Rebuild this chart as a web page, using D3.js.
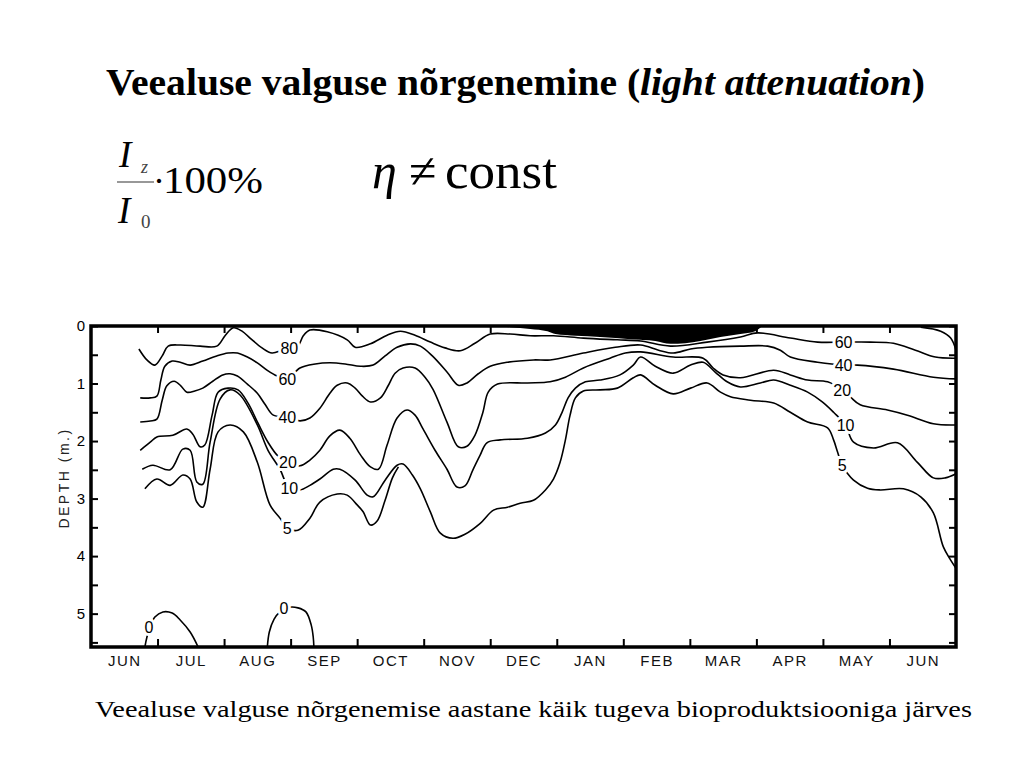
<!DOCTYPE html>
<html><head><meta charset="utf-8">
<script src="https://cdn.jsdelivr.net/npm/d3@7"></script>
<style>body{margin:0;background:#fff}svg{display:block}</style>
</head><body>
<svg id="c" width="1024" height="768"></svg>
<script>
// ---- data (month index from start of June, depth in m) ----
const months = ["JUN","JUL","AUG","SEP","OCT","NOV","DEC","JAN","FEB","MAR","APR","MAY","JUN"];
const depthTicks = [0,1,2,3,4,5];

const iso80 = [[0.72,0.40],[0.84,0.59],[0.96,0.68],[1.07,0.52],[1.16,0.35],[1.34,0.33],[1.64,0.35],[1.89,0.35],[2.02,0.16],[2.14,0.03],[2.27,0.09],[2.39,0.21],[2.57,0.38],[2.72,0.47],[2.87,0.42],[2.98,0.38],[3.11,0.35],[3.19,0.17],[3.29,0.07],[3.55,0.10],[3.85,0.24],[3.97,0.37],[4.20,0.31],[4.45,0.16],[4.65,0.09],[4.87,0.16],[5.10,0.28],[5.32,0.38],[5.55,0.43],[5.77,0.30],[6.00,0.14],[6.30,0.14],[6.60,0.17],[6.95,0.17],[7.40,0.21],[7.91,0.24],[8.26,0.26],[8.71,0.35],[9.26,0.28],[9.76,0.19],[10.02,0.12],[10.51,0.21],[10.92,0.28],[11.31,0.28],[11.71,0.28],[12.06,0.30],[12.39,0.42],[12.69,0.54],[13.0,0.56]];
const iso80b = [[12.47,0.02],[12.77,0.09],[12.92,0.21],[13.0,0.42]];
const iso60 = [[0.74,1.25],[0.89,1.25],[0.99,1.22],[1.05,0.94],[1.11,0.70],[1.22,0.61],[1.34,0.63],[1.49,0.68],[1.68,0.61],[1.89,0.52],[2.06,0.47],[2.20,0.47],[2.35,0.54],[2.50,0.64],[2.65,0.77],[2.80,0.87],[2.95,0.92],[3.14,0.73],[3.37,0.66],[3.59,0.64],[3.82,0.66],[4.05,0.70],[4.24,0.68],[4.42,0.52],[4.60,0.37],[4.80,0.31],[4.95,0.35],[5.13,0.52],[5.35,0.80],[5.52,1.03],[5.65,0.99],[5.82,0.83],[6.00,0.70],[6.26,0.63],[6.65,0.59],[6.90,0.59],[7.40,0.47],[7.88,0.37],[8.26,0.33],[8.53,0.42],[8.75,0.47],[9.01,0.40],[9.26,0.37],[9.76,0.35],[10.17,0.35],[10.36,0.42],[10.51,0.54],[10.92,0.63],[11.31,0.68],[11.52,0.68],[12.06,0.75],[12.66,0.89],[13.0,0.92]];
const iso40 = [[0.74,1.67],[0.89,1.65],[0.99,1.62],[1.07,1.29],[1.14,1.04],[1.25,0.96],[1.35,1.04],[1.44,1.15],[1.56,1.13],[1.68,1.08],[1.83,0.96],[1.98,0.85],[2.09,0.83],[2.20,0.87],[2.35,1.01],[2.50,1.17],[2.62,1.37],[2.74,1.55],[2.95,1.58],[3.14,1.65],[3.29,1.60],[3.44,1.43],[3.59,1.17],[3.70,1.03],[3.85,0.99],[3.97,1.08],[4.08,1.22],[4.20,1.32],[4.35,1.25],[4.47,1.03],[4.57,0.82],[4.69,0.73],[4.87,0.73],[5.02,0.89],[5.14,1.10],[5.35,1.67],[5.52,2.10],[5.65,2.09],[5.77,1.90],[5.89,1.50],[5.97,1.15],[6.11,1.01],[6.56,0.99],[6.90,0.97],[7.13,0.89],[7.40,0.73],[7.80,0.56],[8.03,0.47],[8.26,0.45],[8.75,0.54],[9.20,0.56],[9.35,0.73],[9.50,0.85],[9.76,0.90],[10.26,0.77],[10.51,0.85],[10.77,0.94],[11.07,0.97],[11.29,1.11],[11.41,1.23],[11.56,1.37],[11.97,1.46],[12.27,1.55],[12.66,1.70],[13.0,1.72]];
const iso20 = [[0.74,2.16],[0.89,2.02],[0.99,1.93],[1.23,1.90],[1.44,1.79],[1.53,1.88],[1.64,2.10],[1.71,2.07],[1.82,1.55],[1.91,1.15],[2.06,1.08],[2.21,1.11],[2.36,1.34],[2.51,1.69],[2.66,2.02],[2.81,2.26],[2.96,2.37],[3.14,2.43],[3.29,2.33],[3.44,2.16],[3.59,1.91],[3.74,1.81],[3.89,1.95],[4.05,2.24],[4.20,2.45],[4.32,2.49],[4.45,2.07],[4.60,1.60],[4.75,1.46],[4.87,1.55],[4.99,1.79],[5.17,2.16],[5.35,2.49],[5.50,2.80],[5.62,2.78],[5.74,2.50],[5.85,2.24],[5.95,2.03],[6.15,1.98],[6.56,1.95],[6.83,1.86],[6.98,1.72],[7.08,1.50],[7.17,1.25],[7.28,1.08],[7.43,0.97],[7.65,0.94],[7.95,0.85],[8.15,0.68],[8.26,0.54],[8.48,0.70],[8.75,0.82],[9.01,0.68],[9.20,0.63],[9.38,0.80],[9.56,0.97],[9.76,1.06],[10.06,0.99],[10.26,0.94],[10.51,1.03],[10.77,1.15],[10.99,1.32],[11.16,1.50],[11.34,1.72],[11.46,2.02],[11.76,2.12],[12.12,2.03],[12.42,2.37],[12.66,2.64],[12.84,2.64],[13.0,2.57]];
const iso10 = [[0.77,2.49],[0.93,2.42],[1.19,2.50],[1.38,2.14],[1.49,2.16],[1.59,2.71],[1.68,2.75],[1.79,2.02],[1.94,1.27],[2.09,1.11],[2.24,1.20],[2.50,1.72],[2.66,2.16],[2.84,2.49],[2.98,2.82],[3.14,2.85],[3.29,2.77],[3.44,2.66],[3.64,2.49],[3.74,2.49],[3.97,2.68],[4.15,2.94],[4.24,2.97],[4.42,2.68],[4.60,2.42],[4.69,2.40],[4.83,2.59],[4.95,2.83],[5.10,3.23],[5.25,3.60],[5.44,3.69],[5.62,3.62],[5.85,3.43],[6.05,3.20],[6.26,3.15],[6.45,3.08],[6.65,3.03],[6.83,2.85],[6.95,2.66],[7.05,2.37],[7.13,1.98],[7.20,1.55],[7.28,1.25],[7.40,1.13],[7.65,1.11],[7.91,1.08],[8.15,0.90],[8.26,0.85],[8.48,1.03],[8.75,1.18],[9.01,1.08],[9.26,0.99],[9.46,1.15],[9.61,1.23],[9.91,1.29],[10.26,1.34],[10.51,1.50],[10.77,1.67],[11.07,1.77],[11.16,1.98],[11.22,2.19],[11.29,2.42],[11.46,2.68],[11.67,2.82],[11.86,2.85],[12.21,2.83],[12.47,2.97],[12.66,3.25],[12.81,3.84],[12.92,4.07],[13.0,4.21]];
const iso5 = [[0.81,2.83],[0.99,2.66],[1.19,2.77],[1.38,2.59],[1.49,2.66],[1.59,3.06],[1.68,3.15],[1.79,2.49],[1.91,1.84],[2.09,1.72],[2.29,1.84],[2.50,2.37],[2.69,3.11],[2.84,3.34],[2.95,3.51],[3.11,3.55],[3.29,3.34],[3.44,3.06],[3.70,2.92],[3.85,2.94],[4.00,3.11],[4.09,3.23],[4.20,3.46],[4.30,3.39],[4.42,3.03],[4.53,2.64],[4.62,2.45]];
const iso0a = [[0.81,5.58],[0.84,5.41],[0.89,5.23],[0.96,5.06],[1.08,4.97],[1.22,4.99],[1.34,5.11],[1.49,5.32],[1.61,5.58]];
const iso0b = [[2.65,5.58],[2.68,5.32],[2.75,5.10],[2.84,4.97],[2.98,4.89],[3.11,4.90],[3.23,4.97],[3.31,5.20],[3.34,5.41],[3.35,5.58]];
const ice = [[6.00,0.0],[6.30,0.02],[6.60,0.05],[6.86,0.09],[6.98,0.14],[7.28,0.17],[7.65,0.19],[8.11,0.23],[8.48,0.26],[8.71,0.31],[8.93,0.30],[9.16,0.26],[9.46,0.19],[9.76,0.14],[9.98,0.09],[10.09,0.0]];
const isoLabels = [[2.98,0.38,"80"],[2.95,0.92,"60"],[2.95,1.58,"40"],[2.96,2.37,"20"],[2.98,2.82,"10"],[2.95,3.51,"5"],
  [11.31,0.28,"60"],[11.31,0.68,"40"],[11.29,1.11,"20"],[11.34,1.72,"10"],[11.29,2.42,"5"],
  [0.87,5.23,"0"],[2.90,4.91,"0"]];

// ---- drawing ----
const svg = d3.select("#c");
const x = d3.scaleLinear().domain([0,13]).range([91,956]);
const y = d3.scaleLinear().domain([0,5.58]).range([326,647]);
const sans = "'Liberation Sans', Arial, sans-serif";
const serif = "'Liberation Serif', 'Times New Roman', serif";

// title
const t = svg.append("text").attr("x",106).attr("y",95).attr("font-family",serif)
  .attr("font-weight","bold").attr("font-size",38).attr("textLength",819).attr("lengthAdjust","spacingAndGlyphs");
t.append("tspan").text("Veealuse valguse nõrgenemine (");
t.append("tspan").attr("font-style","italic").text("light attenuation");
t.append("tspan").text(")");

// formula
svg.append("text").attr("x",119).attr("y",167).attr("font-family",serif).attr("font-style","italic").attr("font-size",37).text("I");
svg.append("text").attr("x",141).attr("y",173).attr("font-family",serif).attr("font-style","italic").attr("font-size",18).attr("fill","#444").text("z");
svg.append("line").attr("x1",117).attr("x2",154).attr("y1",182).attr("y2",182).attr("stroke","#333").attr("stroke-width",1.2);
svg.append("text").attr("x",118).attr("y",223).attr("font-family",serif).attr("font-style","italic").attr("font-size",37).text("I");
svg.append("text").attr("x",141).attr("y",228).attr("font-family",serif).attr("font-size",19).attr("fill","#444").text("0");
svg.append("text").attr("x",153).attr("y",193).attr("font-family",serif).attr("font-size",36).text("·");
svg.append("text").attr("x",163).attr("y",193).attr("font-family",serif).attr("font-size",37).attr("textLength",100).attr("lengthAdjust","spacingAndGlyphs").text("100%");

svg.append("text").attr("x",372).attr("y",188).attr("font-family",serif).attr("font-style","italic").attr("font-size",50).text("η");
svg.append("text").attr("x",409).attr("y",188).attr("font-family",serif).attr("font-size",50).text("≠");
svg.append("text").attr("x",445).attr("y",188).attr("font-family",serif).attr("font-size",50).attr("textLength",112).attr("lengthAdjust","spacingAndGlyphs").text("const");

// caption
svg.append("text").attr("x",95).attr("y",717).attr("font-family",serif).attr("font-size",23)
  .attr("textLength",877).attr("lengthAdjust","spacingAndGlyphs")
  .text("Veealuse valguse nõrgenemise aastane käik tugeva bioproduktsiooniga järves");

// plot
svg.append("clipPath").attr("id","clip").append("rect").attr("x",91).attr("y",326).attr("width",865).attr("height",321);
const g = svg.append("g").attr("clip-path","url(#clip)");

g.append("path").datum(ice).attr("fill","#000")
  .attr("d", d3.area().x(d=>x(d[0])).y0(y(0)).y1(d=>y(d[1])).curve(d3.curveMonotoneX));

const line = d3.line().x(d=>x(d[0])).y(d=>y(d[1])).curve(d3.curveCatmullRom.alpha(0.5));
[iso80, iso80b, iso60, iso40, iso20, iso10, iso5, iso0a, iso0b].forEach(p=>{
  g.append("path").datum(p).attr("d",line).attr("fill","none").attr("stroke","#000").attr("stroke-width",1.6);
});

g.selectAll("text.lab").data(isoLabels).join("text").attr("class","lab")
  .attr("x",d=>x(d[0])).attr("y",d=>y(d[1])).attr("dy","0.36em").attr("text-anchor","middle")
  .attr("font-family",sans).attr("font-size",16).attr("fill","#000")
  .attr("stroke","#fff").attr("stroke-width",6).attr("paint-order","stroke").text(d=>d[2]);

// axes
const halfTicks = d3.range(0,5.51,0.5);
const ax = (sel)=>{ sel.select(".domain").remove(); sel.selectAll(".tick line").attr("stroke","#000").attr("stroke-width",2); };
svg.append("g").attr("transform",`translate(${x(0)},0)`)
  .call(d3.axisLeft(y).tickValues(halfTicks).tickSize(-7).tickPadding(6)
    .tickFormat(d=> depthTicks.includes(d) ? d : ""))
  .call(ax).call(s=>s.selectAll("text").attr("font-family",sans).attr("font-size",15).attr("fill","#000"));
svg.append("g").attr("transform",`translate(${x(13)},0)`)
  .call(d3.axisRight(y).tickValues(halfTicks).tickSize(-7).tickFormat("")).call(ax);
svg.append("g").attr("transform",`translate(0,${y(5.58)})`)
  .call(d3.axisBottom(x).tickValues(d3.range(1,13)).tickSize(-8).tickFormat("")).call(ax);
svg.append("g").attr("transform",`translate(0,${y(0)})`)
  .call(d3.axisTop(x).tickValues(d3.range(1,13)).tickSize(-7).tickFormat("")).call(ax);
svg.append("g").attr("transform",`translate(0,${y(5.58)})`)
  .call(d3.axisBottom(x).tickValues(months.map((m,i)=>i+0.5)).tickSize(0).tickPadding(8)
    .tickFormat((d,i)=>months[i]))
  .call(s=>s.select(".domain").remove())
  .call(s=>s.selectAll("text").attr("font-family",sans).attr("font-size",15).attr("letter-spacing","1.5px").attr("fill","#111"));

// frame
svg.append("rect").attr("x",x(0)).attr("y",y(0)).attr("width",x(13)-x(0)).attr("height",y(5.58)-y(0))
  .attr("fill","none").attr("stroke","#000").attr("stroke-width",3.5);

// y title
svg.append("text").attr("transform",`translate(69,478) rotate(-90)`).attr("text-anchor","middle")
  .attr("font-family",sans).attr("font-size",14).attr("letter-spacing","2.5px").attr("fill","#222").text("DEPTH (m.)");
</script>
</body></html>
